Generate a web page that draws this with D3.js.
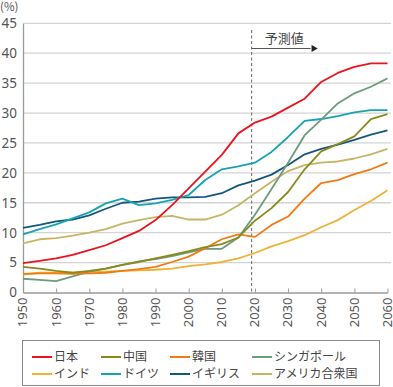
<!DOCTYPE html>
<html>
<head>
<meta charset="utf-8">
<script src="https://cdn.jsdelivr.net/npm/d3@7"></script>
<style>
  body { margin: 0; background: #fff; }
  svg { display: block; font-family: "Noto Sans CJK JP", "Noto Sans", sans-serif; }
</style>
</head>
<body>
<svg id="chart"></svg>
<script>
let width = 393;
let height = 387;

// data, 5-year steps
const years = [1950, 1955, 1960, 1965, 1970, 1975, 1980, 1985, 1990, 1995, 2000, 2005,
  2010, 2015, 2020, 2025, 2030, 2035, 2040, 2045, 2050, 2055, 2060];

const japan = [4.9, 5.3, 5.7, 6.3, 7.1, 7.9, 9.1, 10.3, 12.1, 14.6, 17.4, 20.2, 23.0, 26.6, 28.4, 29.4, 30.9, 32.4, 35.2, 36.7, 37.7, 38.3, 38.3];
const china = [4.3, 4.0, 3.6, 3.3, 3.6, 4.0, 4.6, 5.1, 5.7, 6.3, 6.9, 7.6, 8.1, 9.2, 12.0, 14.1, 16.8, 20.6, 23.6, 24.8, 26.1, 29.0, 29.8];
const korea = [3.1, 3.2, 3.2, 3.1, 3.2, 3.3, 3.6, 3.9, 4.3, 5.1, 6.0, 7.4, 8.9, 9.7, 9.3, 11.3, 12.7, 15.7, 18.3, 18.8, 19.8, 20.6, 21.7];
const singapore = [2.3, 2.1, 1.9, 2.7, 3.5, 4.0, 4.6, 5.2, 5.6, 6.1, 6.7, 7.3, 7.3, 9.2, 13.0, 17.3, 21.7, 26.3, 28.9, 31.6, 33.3, 34.4, 35.8];
const india = [3.0, 3.3, 3.3, 3.3, 3.5, 3.5, 3.6, 3.7, 3.8, 4.0, 4.4, 4.7, 5.1, 5.7, 6.6, 7.7, 8.6, 9.6, 10.9, 12.1, 13.8, 15.3, 17.1];
const germany = [9.7, 10.6, 11.4, 12.4, 13.4, 14.9, 15.7, 14.6, 14.9, 15.5, 16.3, 18.8, 20.6, 21.1, 21.7, 23.5, 26.0, 28.7, 29.0, 29.5, 30.1, 30.5, 30.5];
const uk = [10.8, 11.3, 11.9, 12.2, 12.9, 14.0, 15.0, 15.2, 15.7, 15.9, 15.9, 16.0, 16.6, 17.9, 18.7, 19.7, 21.3, 23.1, 24.0, 24.7, 25.5, 26.4, 27.1];
const usa = [8.2, 8.9, 9.1, 9.5, 10.0, 10.6, 11.5, 12.1, 12.6, 12.8, 12.2, 12.2, 13.0, 14.6, 16.6, 18.5, 20.3, 21.3, 21.7, 21.9, 22.4, 23.1, 24.0];

const names = ["日本", "中国", "韓国", "シンガポール", "インド", "ドイツ", "イギリス", "アメリカ合衆国"];
const colors = ["#e8141e", "#8a8a1c", "#f27a12", "#6b9c7c", "#efb234", "#18a3b1", "#15577c", "#c7b566"];
const seriesValues = [japan, china, korea, singapore, india, germany, uk, usa];

const xTicks = [1950, 1960, 1970, 1980, 1990, 2000, 2010, 2020, 2030, 2040, 2050, 2060];
const yTicks = [0, 5, 10, 15, 20, 25, 30, 35, 40, 45];
const forecastYear = 2019;
const forecastLabel = "予測値";

let svg = d3.select("#chart").attr("width", width).attr("height", height);

let xScale = d3.scaleLinear().domain([1950, 2060]).range([23, 387.5]);
let yScale = d3.scaleLinear().domain([0, 45]).range([292.5, 23.3]);

// gridlines
svg.append("g")
  .selectAll("line")
  .data(yTicks.filter((d) => d > 0))
  .join("line")
  .attr("x1", xScale(1950))
  .attr("x2", 391)
  .attr("y1", (d) => yScale(d))
  .attr("y2", (d) => yScale(d))
  .attr("stroke", "#d4d4d4")
  .attr("stroke-width", 1.3);

// y axis
svg.append("g")
  .attr("transform", `translate(${xScale(1950)}, 0)`)
  .call(d3.axisLeft(yScale).tickValues(yTicks).tickSize(0).tickPadding(6))
  .call((g) => g.select(".domain").attr("stroke", "#9a9a9a").attr("stroke-width", 1.3))
  .call((g) => g.selectAll("text").attr("fill", "#555").style("font-size", "13.5px")
    .style("font-family", "'Noto Sans', sans-serif"));

// x axis
svg.append("g")
  .attr("transform", `translate(0, ${yScale(0)})`)
  .call(d3.axisBottom(xScale).tickValues(xTicks).tickFormat(d3.format("d")).tickSize(-4).tickSizeOuter(0))
  .call((g) => g.select(".domain").attr("stroke", "#9a9a9a").attr("stroke-width", 1.3))
  .call((g) => g.selectAll("line").attr("stroke", "#9a9a9a"))
  .call((g) => g.selectAll("text")
    .attr("fill", "#555")
    .style("font-size", "13px")
    .style("font-family", "'Noto Sans', sans-serif")
    .attr("transform", "rotate(-90)")
    .attr("text-anchor", "end")
    .attr("x", -5)
    .attr("y", 0)
    .attr("dy", "0.3em"));

// unit
svg.append("text")
  .attr("x", 0)
  .attr("y", 11)
  .attr("fill", "#555")
  .style("font-size", "11.5px")
  .text("(%)");

// forecast marker
let fx = xScale(forecastYear);
svg.append("line")
  .attr("x1", fx).attr("x2", fx)
  .attr("y1", 30).attr("y2", yScale(0))
  .attr("stroke", "#666")
  .attr("stroke-dasharray", "3,2.5")
  .attr("stroke-width", 1);

svg.append("text")
  .attr("x", fx + 13)
  .attr("y", 43)
  .attr("fill", "#444")
  .style("font-size", "13px")
  .text(forecastLabel);

svg.append("line")
  .attr("x1", fx).attr("x2", fx + 59)
  .attr("y1", 48.5).attr("y2", 48.5)
  .attr("stroke", "#555")
  .attr("stroke-width", 1);

svg.append("path")
  .attr("d", d3.symbol().type(d3.symbolTriangle).size(22))
  .attr("transform", `translate(${fx + 62}, 48.5) rotate(90)`)
  .attr("fill", "#222");

// lines
let line = d3.line()
  .x((d, i) => xScale(years[i]))
  .y((d) => yScale(d));

let drawOrder = [7, 6, 5, 4, 3, 2, 1, 0];

svg.append("g")
  .selectAll("path")
  .data(drawOrder)
  .join("path")
  .attr("d", (k) => line(seriesValues[k]))
  .attr("fill", "none")
  .attr("stroke", (k) => colors[k])
  .attr("stroke-width", 1.8)
  .attr("stroke-linejoin", "round");

// legend
let legend = svg.append("g");

legend.append("rect")
  .attr("x", 22.5)
  .attr("y", 340.5)
  .attr("width", 357)
  .attr("height", 45)
  .attr("fill", "white")
  .attr("stroke", "#8a8a8a")
  .attr("stroke-width", 1);

const colX = [32, 101, 170, 252];
const rowY = [357, 374];

let items = legend.selectAll("g")
  .data(names)
  .join("g")
  .attr("transform", (d, i) => `translate(${colX[i % 4]}, ${rowY[Math.floor(i / 4)]})`);

items.append("line")
  .attr("x1", 0).attr("x2", 20)
  .attr("stroke", (d, i) => colors[i])
  .attr("stroke-width", 2);

items.append("text")
  .attr("x", 22)
  .attr("dy", "0.35em")
  .attr("fill", "#444")
  .style("font-size", "12px")
  .text((d) => d);
</script>
</body>
</html>
